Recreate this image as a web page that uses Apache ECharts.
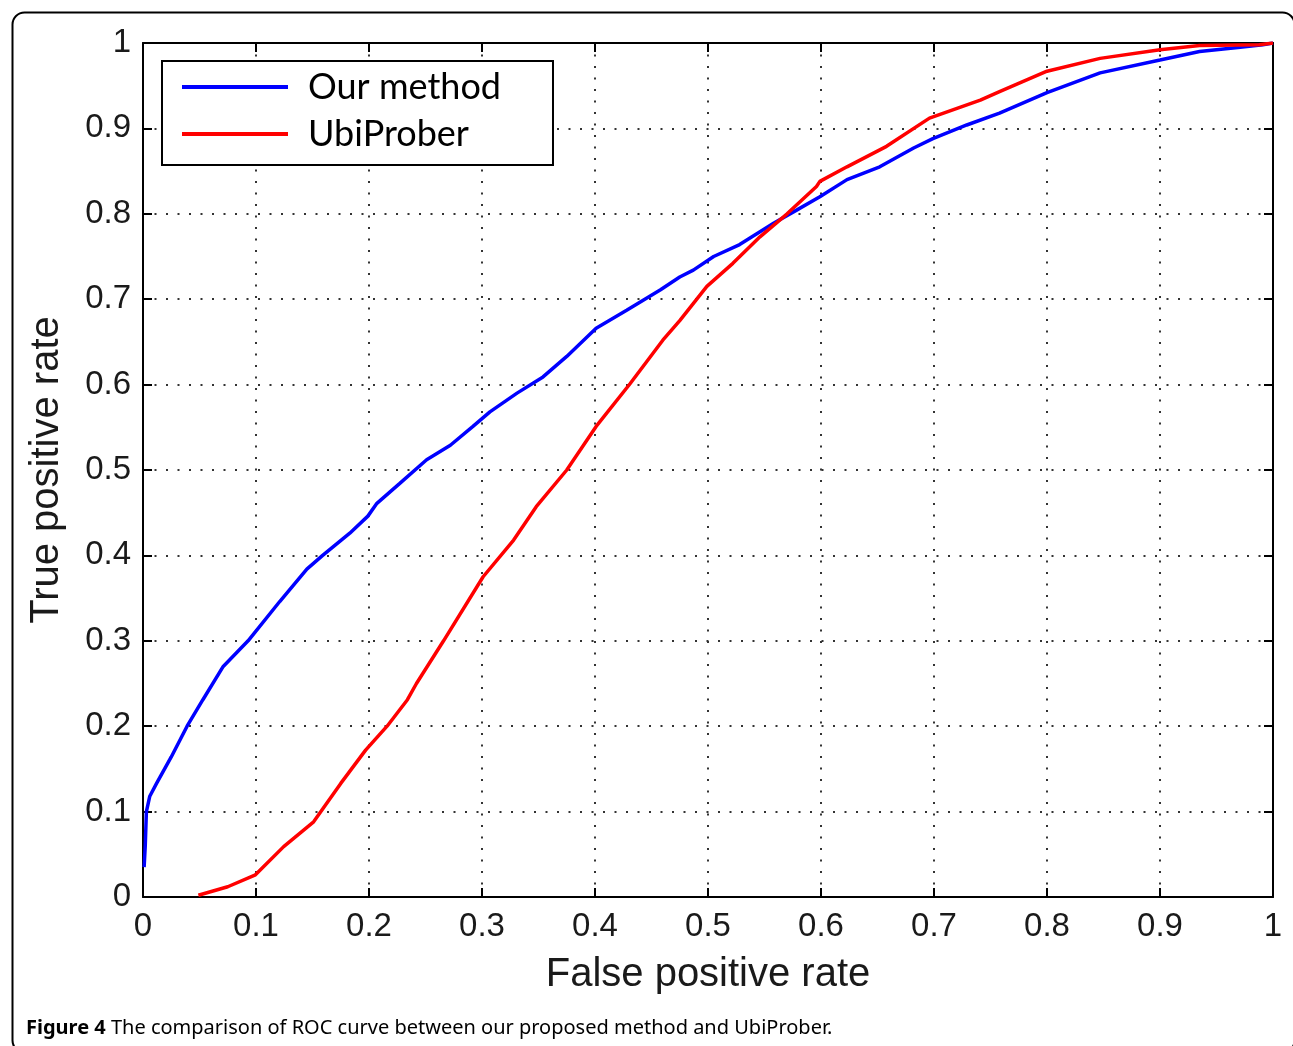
<!DOCTYPE html>
<html>
<head>
<meta charset="utf-8">
<script src="https://cdn.jsdelivr.net/npm/echarts@6/dist/echarts.min.js"></script>
<style>
html,body{margin:0;padding:0;background:#fff;}
#chart{width:1293px;height:1046px;}
</style>
</head>
<body>
<div id="chart"></div>
<script>
// ---- data ----
const seriesNames = ['Our method', 'UbiProber'];
const xTicks = [0, 0.1, 0.2, 0.3, 0.4, 0.5, 0.6, 0.7, 0.8, 0.9, 1];
const yTicks = [0, 0.1, 0.2, 0.3, 0.4, 0.5, 0.6, 0.7, 0.8, 0.9, 1];

const ourFpr = [0.001, 0.002, 0.003, 0.006, 0.012, 0.025, 0.039, 0.053, 0.071, 0.093, 0.121, 0.145, 0.159, 0.183, 0.199, 0.207, 0.227, 0.251, 0.272, 0.292, 0.307, 0.331, 0.354, 0.375, 0.401, 0.428, 0.458, 0.475, 0.487, 0.505, 0.528, 0.558, 0.578, 0.599, 0.623, 0.652, 0.682, 0.699, 0.729, 0.758, 0.8, 0.847, 0.9, 0.935, 0.971, 0.991, 1];
const ourTpr = [0.035, 0.06, 0.1, 0.118, 0.133, 0.164, 0.2, 0.231, 0.27, 0.3, 0.346, 0.384, 0.4, 0.426, 0.446, 0.461, 0.484, 0.512, 0.529, 0.551, 0.568, 0.59, 0.609, 0.633, 0.666, 0.687, 0.711, 0.726, 0.734, 0.75, 0.764, 0.789, 0.804, 0.82, 0.84, 0.855, 0.877, 0.888, 0.904, 0.918, 0.942, 0.965, 0.98, 0.99, 0.995, 0.998, 1];

const ubiFpr = [0.049, 0.075, 0.0995, 0.1245, 0.151, 0.175, 0.197, 0.216, 0.234, 0.242, 0.266, 0.301, 0.328, 0.348, 0.375, 0.401, 0.431, 0.46, 0.475, 0.499, 0.522, 0.546, 0.57, 0.596, 0.599, 0.623, 0.658, 0.696, 0.741, 0.758, 0.8, 0.847, 0.9, 0.935, 0.988, 1];
const ubiTpr = [0.002, 0.012, 0.026, 0.059, 0.088, 0.133, 0.172, 0.2, 0.231, 0.25, 0.3, 0.375, 0.418, 0.457, 0.5, 0.551, 0.601, 0.652, 0.675, 0.715, 0.742, 0.773, 0.8, 0.832, 0.838, 0.855, 0.879, 0.912, 0.933, 0.943, 0.967, 0.982, 0.992, 0.997, 0.998, 1];

const xTitle = 'False positive rate';
const yTitle = 'True positive rate';
const captionBold = 'Figure 4';
const captionText = ' The comparison of ROC curve between our proposed method and UbiProber.';

function zip(xs, ys) { return xs.map((x, i) => [x, ys[i]]); }

const chart = echarts.init(document.getElementById('chart'), null, {renderer: 'canvas'});
const labelFont = {fontFamily: 'Liberation Sans, Arial, sans-serif', fontSize: 33, color: '#1a1a1a'};
const tickFmt = v => String(+v.toFixed(1));

const option = {
  backgroundColor: '#ffffff',
  animation: false,
  grid: {left: 143, right: 20, top: 43, bottom: 149, containLabel: false},
  legend: {
    orient: 'vertical',
    left: 162, top: 61,
    data: seriesNames,
    icon: 'rect',
    itemWidth: 106, itemHeight: 4, itemGap: 11,
    padding: [8, 52, 13, 20],
    borderColor: '#000', borderWidth: 2, backgroundColor: '#fff',
    textStyle: {fontFamily: 'Lato, Open Sans, sans-serif', fontSize: 36, color: '#000', padding: [0, 0, 0, 15]}
  },
  xAxis: [{
    type: 'value', min: xTicks[0], max: xTicks[xTicks.length - 1], interval: 0.1,
    position: 'bottom',
    name: xTitle, nameLocation: 'middle', nameGap: 58,
    nameTextStyle: {fontFamily: 'Liberation Sans, Arial, sans-serif', fontSize: 40, color: '#1a1a1a'},
    axisLine: {show: true, onZero: false, lineStyle: {color: '#000', width: 2}},
    axisTick: {show: true, inside: true, length: 9, lineStyle: {color: '#000', width: 2}},
    axisLabel: Object.assign({margin: 13, formatter: tickFmt, showMinLabel: true, showMaxLabel: true}, labelFont),
    splitLine: {show: true, lineStyle: {color: '#333', width: 2, type: [2, 9.5]}}
  }, {
    type: 'value', min: xTicks[0], max: xTicks[xTicks.length - 1], interval: 0.1,
    position: 'top',
    axisLine: {show: true, onZero: false, lineStyle: {color: '#000', width: 2}},
    axisTick: {show: true, inside: true, length: 9, lineStyle: {color: '#000', width: 2}},
    axisLabel: {show: false}, splitLine: {show: false}
  }],
  yAxis: [{
    type: 'value', min: yTicks[0], max: yTicks[yTicks.length - 1], interval: 0.1,
    position: 'left',
    name: yTitle, nameLocation: 'middle', nameGap: 76,
    nameTextStyle: {fontFamily: 'Liberation Sans, Arial, sans-serif', fontSize: 40, color: '#1a1a1a'},
    axisLine: {show: true, onZero: false, lineStyle: {color: '#000', width: 2}},
    axisTick: {show: true, inside: true, length: 9, lineStyle: {color: '#000', width: 2}},
    axisLabel: Object.assign({margin: 12, formatter: tickFmt, showMinLabel: true, showMaxLabel: true}, labelFont),
    splitLine: {show: true, lineStyle: {color: '#333', width: 2, type: [2, 9.5]}}
  }, {
    type: 'value', min: yTicks[0], max: yTicks[yTicks.length - 1], interval: 0.1,
    position: 'right',
    axisLine: {show: true, onZero: false, lineStyle: {color: '#000', width: 2}},
    axisTick: {show: true, inside: true, length: 9, lineStyle: {color: '#000', width: 2}},
    axisLabel: {show: false}, splitLine: {show: false}
  }],
  series: [{
    name: seriesNames[0], type: 'line', xAxisIndex: 0, yAxisIndex: 0,
    data: zip(ourFpr, ourTpr), symbol: 'none', smooth: false,
    lineStyle: {color: '#0000ff', width: 3.5}, itemStyle: {color: '#0000ff'}, z: 3
  }, {
    name: seriesNames[1], type: 'line', xAxisIndex: 0, yAxisIndex: 0,
    data: zip(ubiFpr, ubiTpr), symbol: 'none', smooth: false,
    lineStyle: {color: '#ff0000', width: 3.5}, itemStyle: {color: '#ff0000'}, z: 4
  }],
  graphic: [{
    type: 'rect', left: 10, top: 10, silent: true, z: -1,
    shape: {width: 1282, height: 1040, r: 12},
    style: {fill: 'none', stroke: '#000', lineWidth: 2}
  }, {
    type: 'text', left: 26, top: 1018, silent: true,
    style: {
      text: '{b|' + captionBold + '}{n|' + captionText + '}',
      rich: {
        b: {fontFamily: 'Noto Sans, sans-serif', fontSize: 20, fontWeight: 'bold', fill: '#000'},
        n: {fontFamily: 'Noto Sans, sans-serif', fontSize: 20, fill: '#000'}
      }
    }
  }]
};
chart.setOption(option);
</script>
</body>
</html>
